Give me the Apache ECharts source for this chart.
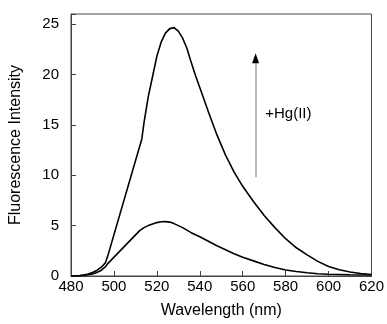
<!DOCTYPE html>
<html>
<head>
<meta charset="utf-8">
<script src="https://cdn.jsdelivr.net/npm/echarts@6/dist/echarts.min.js"></script>
<style>html,body{margin:0;padding:0;background:#fff}#c{width:387px;height:324px}</style>
</head>
<body>
<div id="c"></div>
<script>
// Spectrum after Hg(II) addition
var wlHigh = [480,482,484,486,488,490,492,494,496,497,513,514,516,518,520,522,524,526,528,530,532,534,536,538,540,544,548,552,556,560,565,570,575,580,585,590,595,600,605,610,615,620];
var intHigh = [0,0.02,0.05,0.1,0.2,0.35,0.55,0.85,1.3,1.9,13.6,15.2,17.8,19.8,21.8,23.2,24.1,24.55,24.65,24.3,23.6,22.6,21.2,19.9,18.7,16.3,14.0,12.0,10.3,8.9,7.4,6.0,4.8,3.7,2.8,2.1,1.45,0.95,0.62,0.4,0.25,0.15];
// Spectrum before Hg(II) addition
var wlLow = [480,484,488,490,492,494,496,497,512,514,516,518,520,522,524,526,528,530,532,534,536,538,540,544,548,552,556,560,565,570,575,580,585,590,595,600,610,620];
var intLow = [0,0.03,0.12,0.2,0.35,0.55,0.9,1.2,4.5,4.8,5.0,5.15,5.3,5.38,5.4,5.35,5.2,5.0,4.8,4.55,4.3,4.1,3.9,3.45,3.0,2.6,2.2,1.85,1.5,1.15,0.85,0.6,0.45,0.32,0.22,0.17,0.12,0.1];
var xTicks = [480,500,520,540,560,580,600,620];
var yTicks = [0,5,10,15,20,25];
var arrowX = 566, arrowFrom = 9.8, arrowTo = 21.6;
var annLabel = '+Hg(II)', annPos = [570.5, 16.1];

function pairs(xs, ys){ return xs.map(function(x,i){ return [x, ys[i]]; }); }

var chart = echarts.init(document.getElementById('c'), null, {renderer:'canvas'});
var font = 'Liberation Sans, Arial, sans-serif';
chart.setOption({
  animation: false,
  grid: {left: 67, right: 13, top: 14, bottom: 45, show: true, borderColor: '#444', borderWidth: 1},
  xAxis: {
    type: 'value', min: 480, max: 620, interval: 20,
    name: 'Wavelength (nm)', nameLocation: 'middle', nameGap: 27,
    nameTextStyle: {fontFamily: font, fontSize: 16, color: '#000'},
    axisLine: {lineStyle: {color: '#444'}},
    axisTick: {inside: true, length: 5, lineStyle: {color: '#444'}},
    axisLabel: {fontFamily: font, fontSize: 15, color: '#000', margin: 3},
    splitLine: {show: false}
  },
  yAxis: {
    type: 'value', min: 0, max: 26, interval: 5,
    name: 'Fluorescence Intensity', nameLocation: 'middle', nameGap: 47,
    nameTextStyle: {fontFamily: font, fontSize: 16, color: '#000'},
    axisLine: {show: true, lineStyle: {color: '#444'}},
    axisTick: {show: true, inside: true, length: 5, lineStyle: {color: '#444'}},
    axisLabel: {fontFamily: font, fontSize: 15, color: '#000', margin: 12,
      formatter: function(v){ return yTicks.indexOf(v) >= 0 ? String(v) : ''; }},
    splitLine: {show: false}
  },
  series: [
    {type: 'line', data: pairs(wlHigh, intHigh), showSymbol: false, symbol: 'none',
     lineStyle: {color: '#000', width: 1.6},
     markLine: {
       silent: true, animation: false,
       lineStyle: {color: '#a0a0a0', width: 1.5, type: 'solid'},
       label: {show: false},
       symbol: ['none', 'none'],
       data: [[
         {coord: [arrowX, arrowFrom]},
         {coord: [arrowX, arrowTo]}
       ]]
     },
     markPoint: {
       silent: true, animation: false,
       data: [
         {coord: [arrowX, arrowTo], symbol: 'triangle', symbolSize: [7, 10], itemStyle: {color: '#000'}, label: {show: false}},
         {coord: annPos, symbol: 'circle', symbolSize: 0, label: {show: true, formatter: annLabel, position: 'right', distance: 0,
         fontFamily: font, fontSize: 15, color: '#000'}}
       ]
     }
    },
    {type: 'line', data: pairs(wlLow, intLow), showSymbol: false, symbol: 'none',
     lineStyle: {color: '#000', width: 1.6}}
  ]
});
</script>
</body>
</html>
